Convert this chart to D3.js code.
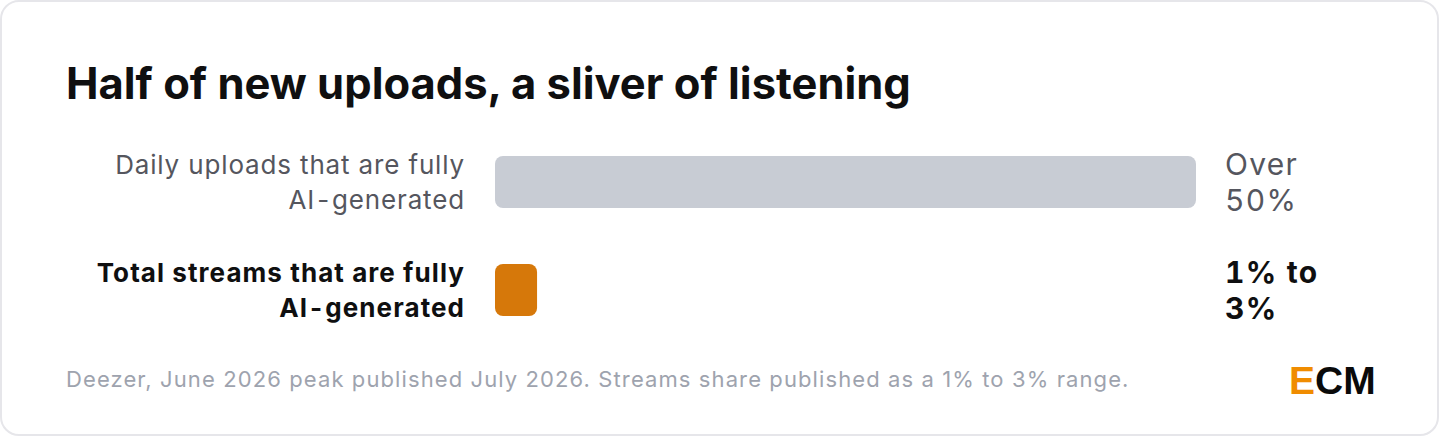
<!DOCTYPE html>
<html>
<head>
<meta charset="utf-8">
<script src="https://cdn.jsdelivr.net/npm/d3@7"></script>
<style>
  html, body { margin: 0; padding: 0; background: #ffffff; }
  svg { display: block; font-family: Inter, "Noto Sans", sans-serif; }
  .num { font-variant-numeric: tabular-nums; }
</style>
</head>
<body>
<svg id="chart" width="1440" height="437"></svg>
<script>
const title = "Half of new uploads, a sliver of listening";
const categories = ["uploads", "streams"];
const categoryLabels = [
  ["Daily uploads that are fully", ["AI", "-", "generated"]],
  ["Total streams that are fully", ["AI", "-", "generated"]]
];
const values = [50, 3];
const valueLabels = [["Over", "50%"], ["1% to", "3%"]];
const footnote = "Deezer, June 2026 peak published July 2026. Streams share published as a 1% to 3% range.";

const svg = d3.select("#chart");

// card
svg.append("rect")
  .attr("x", 1).attr("y", 1).attr("width", 1437).attr("height", 434)
  .attr("rx", 18).attr("ry", 18)
  .attr("fill", "#ffffff").attr("stroke", "#e6e6ea").attr("stroke-width", 2);

svg.append("text")
  .attr("x", 66).attr("y", 99)
  .attr("font-size", 43.5).attr("font-weight", 700)
  .attr("fill", "#0f0f10")
  .text(title);

const x = d3.scaleLinear().domain([0, 50]).range([495, 1196]);
const y = d3.scaleBand().domain(categories).range([156, 316]).paddingInner(56 / 108).paddingOuter(0);

const colors = ["#c8ccd4", "#d6780a"];
const labelColors = ["#55565e", "#0f0f10"];
const labelWeights = [400, 700];
const labelSpacing = [0.85, 1.07];

const g = svg.append("g");

g.selectAll("rect.bar").data(categories).join("rect")
  .attr("class", "bar")
  .attr("x", x(0))
  .attr("y", d => y(d))
  .attr("width", (d, i) => x(values[i]) - x(0))
  .attr("height", y.bandwidth())
  .attr("rx", 8).attr("ry", 8)
  .attr("fill", (d, i) => colors[i]);

// category labels
categories.forEach((c, i) => {
  const base = {
    size: 26, weight: labelWeights[i], fill: labelColors[i], ls: labelSpacing[i]
  };
  g.append("text")
    .attr("x", 465).attr("y", y(c) + 18)
    .attr("text-anchor", "end")
    .attr("font-size", base.size).attr("font-weight", base.weight)
    .attr("fill", base.fill).attr("letter-spacing", base.ls)
    .text(categoryLabels[i][0]);
  const t2 = g.append("text")
    .attr("x", 465).attr("y", y(c) + 53)
    .attr("text-anchor", "end")
    .attr("font-size", base.size).attr("font-weight", base.weight)
    .attr("fill", base.fill).attr("letter-spacing", base.ls);
  const parts = categoryLabels[i][1];
  t2.append("tspan").text(parts[0]);
  t2.append("tspan").attr("dx", 2).text(parts[1]);
  t2.append("tspan").attr("dx", 2).text(parts[2]);
});

// value labels
categories.forEach((c, i) => {
  const t = g.append("text")
    .attr("class", "num")
    .attr("x", 1225)
    .attr("font-size", 30)
    .attr("font-weight", labelWeights[i])
    .attr("letter-spacing", 1.3)
    .attr("fill", labelColors[i]);
  valueLabels[i].forEach((line, j) => {
    t.append("tspan").attr("x", 1225)
      .attr("y", y(c) + 18.5 + j * 36.5)
      .text(line);
  });
});

svg.append("text")
  .attr("x", 66).attr("y", 387)
  .attr("font-size", 22)
  .attr("letter-spacing", 1.1)
  .attr("fill", "#9ea3ae")
  .text(footnote);

const logo = svg.append("text")
  .attr("x", 1289).attr("y", 394)
  .attr("font-family", "Liberation Sans, Arial, sans-serif")
  .attr("font-size", 39).attr("font-weight", 700);
logo.append("tspan").attr("fill", "#f08c00").text("E");
logo.append("tspan").attr("fill", "#0a0a0a").text("CM");
</script>
</body>
</html>
